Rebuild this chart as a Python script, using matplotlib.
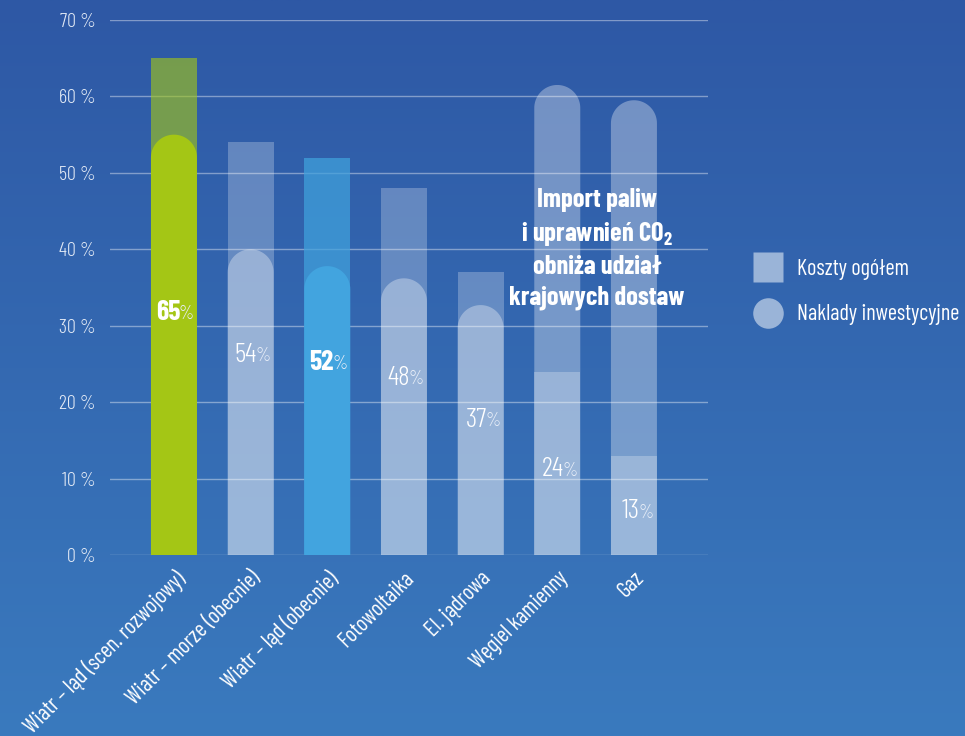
import matplotlib
matplotlib.use("Agg")
import matplotlib.pyplot as plt
import numpy as np
from matplotlib.lines import Line2D
from matplotlib.patches import Polygon, Rectangle

plt.rcParams["font.family"] = ["Barlow Condensed", "Roboto", "DejaVu Sans"]
plt.rcParams["mathtext.fontset"] = "custom"
plt.rcParams["mathtext.rm"] = "Barlow Condensed:bold"
plt.rcParams["mathtext.it"] = "Barlow Condensed:bold"

# data
categories = [
    "Wiatr – ląd (scen. rozwojowy)",
    "Wiatr – morze (obecnie)",
    "Wiatr – ląd (obecnie)",
    "Fotowoltaika",
    "El. jądrowa",
    "Węgiel kamienny",
    "Gaz",
]
koszty_ogolem = [65, 54, 52, 48, 37, 24, 13]
naklady_inwestycyjne = [55, 40, 37.8, 36.2, 32.7, 61.5, 59.5]
y_ticks = [0, 10, 20, 30, 40, 50, 60, 70]
series_labels = ["Koszty ogółem", "Naklady inwestycyjne"]
note_text = "Import paliw\ni uprawnień CO$_2$\nobniża udział\nkrajowych dostaw"

# style per category: (rect colour, rect alpha, pill colour, pill alpha, bold label)
styles = {
    "green": ("#a2c617", 0.62, "#a4c615", 1.0, True),
    "white": ("#ffffff", 0.25, "#ffffff", 0.33, False),
    "blue": ("#40a2dd", 0.72, "#42a4df", 1.0, True),
}
cat_style = ["green", "white", "blue", "white", "white", "white", "white"]

W, H = 965, 736
fig = plt.figure(figsize=(W / 100, H / 100), dpi=100)

# gradient background
bg = fig.add_axes([0, 0, 1, 1], zorder=-10)
top = np.array([46, 88, 165]) / 255
bottom = np.array([58, 122, 190]) / 255
t = np.linspace(0, 1, 256)[:, None, None]
grad = top * (1 - t) + bottom * t
grad = np.repeat(grad, 2, axis=1)
bg.imshow(grad, aspect="auto", extent=[0, 1, 0, 1])
bg.set_axis_off()

x0, x1, y0, y1 = 110, 708, 555, 20
ax = fig.add_axes([x0 / W, 1 - y0 / H, (x1 - x0) / W, (y0 - y1) / H])
ax.set_facecolor("none")
xmin, xmax = -0.834, 6.966
ax.set_xlim(xmin, xmax)
ax.set_ylim(0, 70)

bw = 0.6
# radius of the rounded top in data units (y), so it looks circular
px_x = (x1 - x0) / (xmax - xmin)
px_y = (y0 - y1) / 70
ry = (bw / 2) * px_x / px_y

for i, (k, n) in enumerate(zip(koszty_ogolem, naklady_inwestycyjne)):
    rc, ra, pc, pa, bold = styles[cat_style[i]]
    ax.add_patch(Rectangle((i - bw / 2, 0), bw, k, facecolor=rc, alpha=ra,
                           edgecolor="none", zorder=2))
    ang = np.linspace(np.pi, 0, 40)
    arc = np.column_stack([i + bw / 2 * np.cos(ang), n - ry + ry * np.sin(ang)])
    pts = np.vstack([[i - bw / 2, 0], arc, [i + bw / 2, 0]])
    ax.add_patch(Polygon(pts, closed=True, facecolor=pc, alpha=pa,
                         edgecolor="none", zorder=3))
    ypos = k / 2 - 0.8
    ax.annotate(f"{k}", (i, ypos), xytext=(4.5, 0), textcoords="offset points",
                ha="right", va="center", color="white", fontsize=20,
                fontweight="bold" if bold else 300, zorder=5)
    ax.annotate("%", (i, ypos), xytext=(3.5, -1), textcoords="offset points",
                ha="left", va="center", color="#e8eef8", fontsize=14,
                fontweight=300, zorder=5)

ax.set_yticks(y_ticks)
ax.set_yticklabels([f"{v} %" for v in y_ticks], fontweight=300)
ax.yaxis.grid(True, color="white", alpha=0.4, lw=1)
ax.set_axisbelow(True)
for s in ax.spines.values():
    s.set_visible(False)
ax.tick_params(axis="y", length=0, pad=10, labelsize=14.5, labelcolor="#e4ebf6")

ax.set_xticks(range(len(categories)))
ax.set_xticklabels(categories, rotation=45, ha="right", rotation_mode="anchor",
                   fontsize=16, color="white")
ax.tick_params(axis="x", length=0, pad=9)

ax.text(5.52, 40.0, note_text, ha="center", va="center", color="white",
        fontsize=19, fontweight="bold", linespacing=1.36, zorder=6)

handles = [
    Line2D([], [], marker="s", ls="", ms=22, mfc="#9ab4d8", mec="none"),
    Line2D([], [], marker="o", ls="", ms=22, mfc="#9ab4d8", mec="none"),
]
fig.legend(handles, series_labels, loc="upper left",
           bbox_to_anchor=(737 / W, 1 - 250 / H), frameon=False,
           fontsize=16, labelcolor="white", handletextpad=0.3, labelspacing=1.1,
           borderaxespad=0)

fig.savefig("out.png", dpi=100)
